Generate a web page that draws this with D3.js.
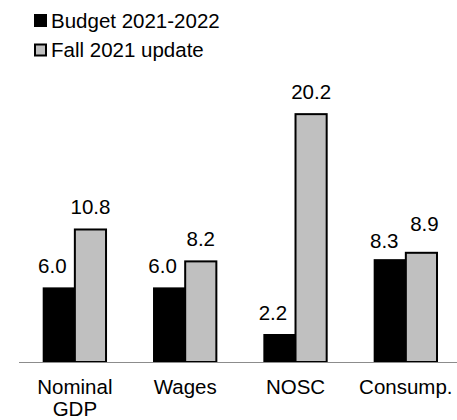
<!DOCTYPE html>
<html>
<head>
<meta charset="utf-8">
<script src="https://cdn.jsdelivr.net/npm/d3@7"></script>
<style>
  html, body { margin: 0; padding: 0; background: #fff; }
  svg { display: block; font-family: "Liberation Sans", Arial, sans-serif; }
</style>
</head>
<body>
<svg id="chart" width="457" height="420"></svg>
<script>
// Growth comparison, per cent
const categories = [["Nominal", "GDP"], ["Wages"], ["NOSC"], ["Consump."]];
const seriesNames = ["Budget 2021-2022", "Fall 2021 update"];
const budget = [6.0, 6.0, 2.2, 8.3];
const fallUpdate = [10.8, 8.2, 20.2, 8.9];

const colors = ["#000000", "#c0c0c0"];
const fontSize = 20.5;
const svg = d3.select("#chart");

const baseY = 362;
const y = d3.scaleLinear().domain([0, 22]).range([baseY, baseY - 22 * 12.27]);

const keys = categories.map(c => c.join(" "));
const x0 = d3.scaleBand().domain(keys).range([19.7, 461])
  .paddingInner(0.435).paddingOuter(0.2175);
const x1 = d3.scaleBand().domain([0, 1]).range([0, x0.bandwidth()]);

const rows = keys.map((k, i) => ({ key: k, vals: [budget[i], fallUpdate[i]] }));

// bars
const g = svg.append("g");
const groups = g.selectAll("g.grp").data(rows).join("g")
  .attr("transform", d => `translate(${x0(d.key)},0)`);

groups.selectAll("rect").data(d => d.vals.map((v, s) => ({ v, s }))).join("rect")
  .attr("x", d => x1(d.s))
  .attr("width", x1.bandwidth())
  .attr("y", d => y(d.v))
  .attr("height", d => baseY - y(d.v))
  .attr("fill", d => colors[d.s])
  .attr("stroke", "#000")
  .attr("stroke-width", 2);

// baseline
svg.append("line")
  .attr("x1", 19).attr("x2", 457)
  .attr("y1", baseY + 0.5).attr("y2", baseY + 0.5)
  .attr("stroke", "#8c8c8c").attr("stroke-width", 1);

// value labels (first series shifted left so neighbouring labels stay clear)
groups.each(function (d, i) {
  const grp = d3.select(this);
  const close = Math.abs(d.vals[0] - d.vals[1]) < 1;
  d.vals.forEach((v, s) => {
    let dx = s === 0 ? -7 : 0;
    let dy = -15;
    if (close) { dx = s === 0 ? -6 : 3; dy = s === 0 ? -12 : -22; }
    grp.append("text")
      .attr("x", x1(s) + x1.bandwidth() / 2 + dx)
      .attr("y", y(v) + dy)
      .attr("text-anchor", "middle")
      .attr("font-size", fontSize)
      .attr("fill", "#000")
      .text(d3.format(".1f")(v));
  });
});

// category labels
rows.forEach((r, i) => {
  const t = svg.append("text")
    .attr("text-anchor", "middle")
    .attr("font-size", fontSize)
    .attr("fill", "#000");
  categories[i].forEach((line, j) => {
    t.append("tspan")
      .attr("x", x0(r.key) + x0.bandwidth() / 2)
      .attr("y", 393.5 + j * 22.5)
      .text(line);
  });
});

// legend
const legend = svg.append("g");
seriesNames.forEach((name, i) => {
  const row = legend.append("g").attr("transform", `translate(0,${i * 29.5})`);
  row.append("rect")
    .attr("x", 35).attr("y", 15)
    .attr("width", 11).attr("height", 11)
    .attr("fill", colors[i])
    .attr("stroke", "#000").attr("stroke-width", 2);
  row.append("text")
    .attr("x", 51).attr("y", 27.5)
    .attr("font-size", fontSize)
    .attr("fill", "#000")
    .text(name);
});
</script>
</body>
</html>
